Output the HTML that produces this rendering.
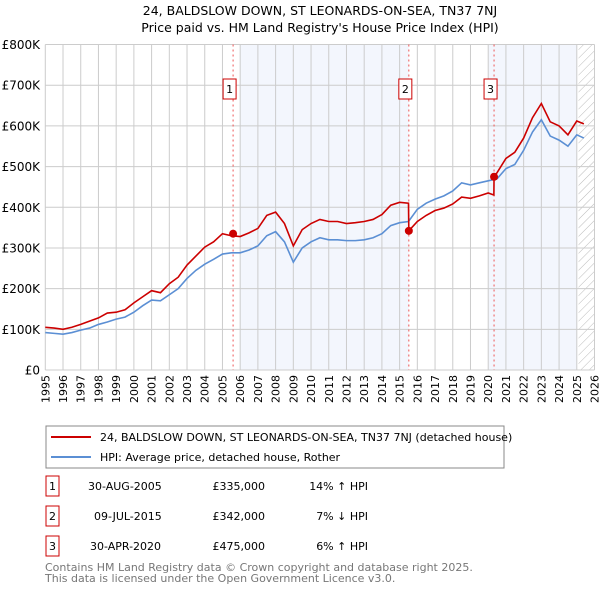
<!DOCTYPE html>
<html><head><meta charset="utf-8"><style>
body{margin:0;background:#fff;font-family:"DejaVu Sans","Liberation Sans",sans-serif;}
svg text{font-family:"DejaVu Sans","Liberation Sans",sans-serif;}
</style></head><body>
<svg id="c" width="600" height="590" xmlns="http://www.w3.org/2000/svg">
<defs><pattern id="hatch" width="6" height="6" patternUnits="userSpaceOnUse" patternTransform="rotate(45)"><line x1="0" y1="0" x2="0" y2="6" stroke="#bbb" stroke-width="1"/></pattern></defs>
<text x="320" y="15" text-anchor="middle" font-size="12.5">24, BALDSLOW DOWN, ST LEONARDS-ON-SEA, TN37 7NJ</text>
<text x="320" y="32" text-anchor="middle" font-size="12.5">Price paid vs. HM Land Registry's House Price Index (HPI)</text>
<g id="plot"></g>
<rect x="46" y="426" width="458" height="42" fill="#fff" stroke="#888"/>
<line x1="51" y1="437" x2="91" y2="437" stroke="#cc0000" stroke-width="2"/>
<text x="100" y="441" font-size="11">24, BALDSLOW DOWN, ST LEONARDS-ON-SEA, TN37 7NJ (detached house)</text>
<line x1="51" y1="457" x2="91" y2="457" stroke="#5b8fd4" stroke-width="2"/>
<text x="100" y="461" font-size="11">HPI: Average price, detached house, Rother</text>
<g font-size="11">
<rect x="46" y="476" width="13" height="20" fill="#fff" stroke="#cc0000"/><text x="52.5" y="490" text-anchor="middle">1</text>
<text x="88" y="490">30-AUG-2005</text><text x="265" y="490" text-anchor="end">£335,000</text><text x="368" y="490" text-anchor="end">14% ↑ HPI</text>
<rect x="46" y="506" width="13" height="20" fill="#fff" stroke="#cc0000"/><text x="52.5" y="520" text-anchor="middle">2</text>
<text x="94" y="520">09-JUL-2015</text><text x="265" y="520" text-anchor="end">£342,000</text><text x="368" y="520" text-anchor="end">7% ↓ HPI</text>
<rect x="46" y="536" width="13" height="20" fill="#fff" stroke="#cc0000"/><text x="52.5" y="550" text-anchor="middle">3</text>
<text x="90" y="550">30-APR-2020</text><text x="265" y="550" text-anchor="end">£475,000</text><text x="368" y="550" text-anchor="end">6% ↑ HPI</text>
</g>
<text x="45" y="571" font-size="11" fill="#777">Contains HM Land Registry data © Crown copyright and database right 2025.</text>
<text x="45" y="582" font-size="11" fill="#777">This data is licensed under the Open Government Licence v3.0.</text>
</svg>
<script>
const yTicks=[0,100000,200000,300000,400000,500000,600000,700000,800000];
const yTickLabels=["£0","£100K","£200K","£300K","£400K","£500K","£600K","£700K","£800K"];
const xYears=[1995,1996,1997,1998,1999,2000,2001,2002,2003,2004,2005,2006,2007,2008,2009,2010,2011,2012,2013,2014,2015,2016,2017,2018,2019,2020,2021,2022,2023,2024,2025,2026];
const hpiYears=[1995,1995.5,1996,1996.5,1997,1997.5,1998,1998.5,1999,1999.5,2000,2000.5,2001,2001.5,2002,2002.5,2003,2003.5,2004,2004.5,2005,2005.5,2006,2006.5,2007,2007.5,2008,2008.5,2009,2009.5,2010,2010.5,2011,2011.5,2012,2012.5,2013,2013.5,2014,2014.5,2015,2015.5,2016,2016.5,2017,2017.5,2018,2018.5,2019,2019.5,2020,2020.5,2021,2021.5,2022,2022.5,2023,2023.5,2024,2024.5,2025,2025.4];
const hpiValues=[92,90,88,92,98,103,112,118,125,130,142,158,172,170,185,200,225,245,260,272,285,288,288,295,305,330,340,315,265,300,315,325,320,320,318,318,320,325,335,355,362,365,395,410,420,428,440,460,455,460,465,470,495,505,540,585,615,575,565,550,578,570];
const redYears=[1995,1995.5,1996,1996.5,1997,1997.5,1998,1998.5,1999,1999.5,2000,2000.5,2001,2001.5,2002,2002.5,2003,2003.5,2004,2004.5,2005,2005.5,2006,2006.5,2007,2007.5,2008,2008.5,2009,2009.5,2010,2010.5,2011,2011.5,2012,2012.5,2013,2013.5,2014,2014.5,2015,2015.5,2015.52,2016,2016.5,2017,2017.5,2018,2018.5,2019,2019.5,2020,2020.32,2020.33,2020.5,2021,2021.5,2022,2022.5,2023,2023.5,2024,2024.5,2025,2025.4];
const redValues=[105,103,100,105,112,120,128,140,142,148,165,180,195,190,212,228,258,280,302,315,335,330,328,337,348,380,388,360,305,345,360,370,365,365,360,362,365,370,382,405,412,410,342,365,380,392,398,408,425,422,428,435,430,475,485,520,535,570,620,655,610,600,578,612,605];
const saleYears=[2005.6,2015.52,2020.33];
const saleValues=[335000,342000,475000];
const saleLabels=["1","2","3"];
const shadeRanges=[[2006,2015.52],[2020.0,2025.0]];
const L=45.3,R=594.5,T=44.5,B=370;
const x=y=>L+(y-1995)*(R-L)/31;
const yv=v=>B-v*(B-T)/800000;
const NS="http://www.w3.org/2000/svg";
const g=document.getElementById('plot');
function mk(tag,attrs){const e=document.createElementNS(NS,tag);for(const k in attrs)e.setAttribute(k,attrs[k]);g.appendChild(e);return e;}
for(const r of shadeRanges){const e=mk('rect',{x:x(r[0]),y:T,width:x(r[1])-x(r[0]),height:B-T,fill:'#f3f6fd'});

}
const h=mk('rect',{x:x(2025.1),y:T,width:R-x(2025.1),height:B-T,fill:'url(#hatch)'});


for(let i=0;i<xYears.length;i++){const yr=xYears[i];
const l=mk('line',{x1:x(yr),x2:x(yr),y1:T,y2:B,stroke:'#ccc','stroke-width':1});


const t=mk('text',{x:0,y:0,'font-size':11,'text-anchor':'end',transform:`translate(${x(yr)+4},${B+5}) rotate(-90)`});t.textContent=yr;

}
for(let i=0;i<yTicks.length;i++){
const l=mk('line',{x1:L,x2:R,y1:yv(yTicks[i]),y2:yv(yTicks[i]),stroke:'#ccc','stroke-width':1});


const t=mk('text',{x:40,y:yv(yTicks[i])+4.5,'font-size':12,'text-anchor':'end'});t.textContent=yTickLabels[i];

}
for(let i=0;i<saleYears.length;i++){
const l=mk('line',{x1:x(saleYears[i]),x2:x(saleYears[i]),y1:T,y2:B,stroke:'#ee5555','stroke-width':1,'stroke-dasharray':'2,3'});

}
const hp=mk('polyline',{points:hpiYears.map((yr,i)=>x(yr)+','+yv(hpiValues[i]*1000)).join(' '),fill:'none',stroke:'#5b8fd4','stroke-width':1.6});


const rp=mk('polyline',{points:redYears.map((yr,i)=>x(yr)+','+yv(redValues[i]*1000)).join(' '),fill:'none',stroke:'#cc0000','stroke-width':1.6});


for(let i=0;i<saleYears.length;i++){
const c=mk('circle',{cx:x(saleYears[i]),cy:yv(saleValues[i]),r:4,fill:'#cc0000'});


const b=mk('rect',{x:x(saleYears[i])-10,y:79,width:13,height:20,fill:'#fff',stroke:'#cc0000'});


const t=mk('text',{x:x(saleYears[i])-3.5,y:93,'font-size':11,'text-anchor':'middle'});t.textContent=saleLabels[i];

}
</script>
</body></html>
